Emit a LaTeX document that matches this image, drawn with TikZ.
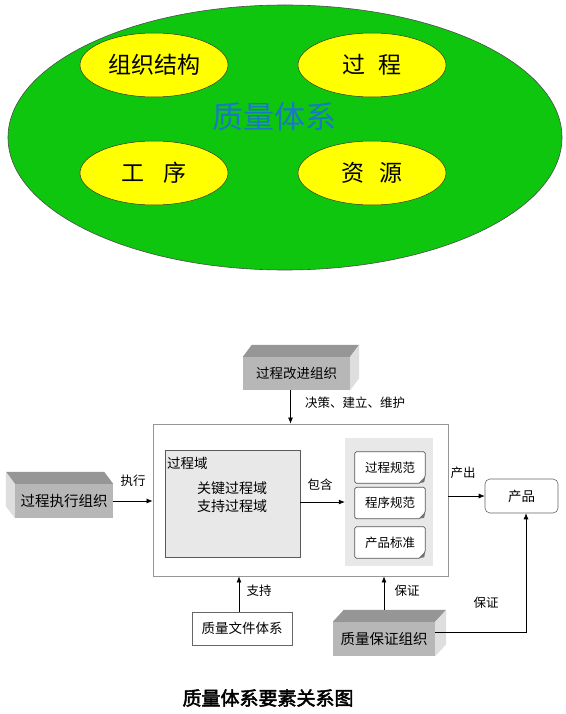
\documentclass[tikz,border=0pt]{standalone}
\usepackage{fontspec}
\newfontfamily\cjk{Noto Sans CJK SC}
\newfontfamily\cjkbold[FakeBold=2.5]{Noto Sans CJK SC}
\usetikzlibrary{arrows.meta,shapes.geometric,calc}
\definecolor{bggreen}{RGB}{15,198,15}
\definecolor{ylw}{RGB}{255,255,0}
\definecolor{qblue}{RGB}{25,120,200}
\definecolor{frontgray}{RGB}{183,183,183}
\definecolor{topgray}{RGB}{150,150,150}
\definecolor{sidegray}{RGB}{222,222,222}
\definecolor{linegray}{RGB}{150,150,150}
\definecolor{domgray}{RGB}{232,232,232}
\begin{document}
\begin{tikzpicture}[x=1pt,y=-1pt,
  font=\cjk,
  arr/.style={draw=black, line width=0.7pt, -{Latex[length=6pt,width=5pt]}},
  inner/.style={ellipse, fill=ylw, draw=black!80, line width=0.5pt, minimum width=148, minimum height=64, inner sep=0pt, font=\cjk\fontsize{23}{26}\selectfont},
  front/.style={fill=frontgray, draw=none, inner sep=0pt, font=\cjk\fontsize{13.5}{16}\selectfont},
  topface/.style={fill=topgray},
  sideface/.style={fill=sidegray},
  docbox/.style={draw=none, minimum width=70, minimum height=31, inner sep=0pt, font=\cjk\fontsize{12.5}{15}\selectfont},
  lbl/.style={font=\cjk\fontsize{12.5}{15}\selectfont, inner sep=0pt},
  plainbox/.style={draw=black!60, fill=white, line width=0.6pt, inner sep=0pt, font=\cjk\fontsize{13.5}{16}\selectfont}
]
\useasboundingbox (0,0) rectangle (565,714);
\fill[white] (0,0) rectangle (565,714);

% ---------- upper diagram ----------
\node[ellipse, fill=bggreen, draw=black!70, line width=0.6pt, minimum width=554, minimum height=265, inner sep=0pt] (qs) at (285,137.5) {};
\node[inner] (zz) at (154,65) {组织结构};
\node[inner] (gc) at (372,65) {过\hspace{0.55em}程};
\node[inner] (gx) at (154,173) {工\hspace{0.8em}序};
\node[inner] (zy) at (372,173) {资\hspace{0.65em}源};
\node[text=qblue, font=\cjk\fontsize{31}{34}\selectfont, inner sep=0pt] (qt) at (274,117) {质量体系};

% ---------- lower diagram ----------
% outer box
\node[draw=linegray, fill=white, line width=0.8pt, minimum width=295, minimum height=152, inner sep=0pt] (outer) at (300.5,500) {};

% process domain
\node[draw=black!65, fill=domgray, line width=0.8pt, minimum width=135, minimum height=107, inner sep=0pt] (dom) at (232.5,503.5) {};
\node[lbl, anchor=west, font=\cjk\fontsize{13.5}{16}\selectfont] (domt) at (167,463) {过程域};
\node[lbl, align=center, font=\cjk\fontsize{14}{18}\selectfont] (domc) at (232,497) {关键过程域\\支持过程域};

% documents container
\node[fill=black!9, minimum width=88, minimum height=128, inner sep=0pt] (cont) at (389,502) {};
\foreach \n/\y/\t in {d1/467.5/过程规范, d2/503/程序规范, d3/542.5/产品标准}{
  \node[docbox] (\n) at (390,\y) {};
  \filldraw[fill=white, draw=black!65, line width=0.7pt, rounded corners=1.5pt]
    (\n.north west) -- (\n.north east) -- ($(\n.south east)+(0,-6)$) [sharp corners] -- ($(\n.south east)+(-6,0)$) [rounded corners=1.5pt] -- (\n.south west) -- cycle;
  \fill[black!55] ($(\n.south east)+(0,-6)$) -- ($(\n.south east)+(-6,0)$) -- ($(\n.south east)+(-1,-1)$) -- cycle;
  \node[docbox] at (\n) {\t};
}

% product
\node[plainbox, rounded corners=5pt, minimum width=73, minimum height=34] (prod) at (521.5,496) {产品};

% 3D box: process improvement org (top)
\node[front, minimum width=107, minimum height=33] (pio) at (296.5,373.5) {过程改进组织};
\fill[topface] (pio.north west) -- ($(pio.north west)+(9,-12)$) -- ($(pio.north east)+(9,-12)$) -- (pio.north east) -- cycle;
\fill[sideface] (pio.north east) -- ($(pio.north east)+(9,-12)$) -- ($(pio.south east)+(9,-12)$) -- (pio.south east) -- cycle;

% 3D box: process execution org (left, viewed from left)
\node[front, minimum width=98, minimum height=34, font=\cjk\fontsize{14.5}{17}\selectfont] (peo) at (64,501) {过程执行组织};
\fill[topface] (peo.north west) -- ($(peo.north west)+(-9,-12)$) -- ($(peo.north east)+(-9,-12)$) -- (peo.north east) -- cycle;
\fill[sideface] (peo.north west) -- ($(peo.north west)+(-9,-12)$) -- ($(peo.south west)+(-9,-12)$) -- (peo.south west) -- cycle;

% 3D box: quality assurance org (bottom)
\node[front, minimum width=102, minimum height=34, font=\cjk\fontsize{14.5}{17}\selectfont] (qa) at (384,639) {质量保证组织};
\fill[topface] (qa.north west) -- ($(qa.north west)+(11,-12)$) -- ($(qa.north east)+(11,-12)$) -- (qa.north east) -- cycle;
\fill[sideface] (qa.north east) -- ($(qa.north east)+(11,-12)$) -- ($(qa.south east)+(11,-12)$) -- (qa.south east) -- cycle;

% quality document system
\node[plainbox, minimum width=100, minimum height=33] (qd) at (242,628.5) {质量文件体系};

% connectors
\draw[arr] ([xshift=-6pt]pio.south) -- ([xshift=-6pt]pio.south |- outer.north);
\node[lbl] (l1) at (355,403) {决策、建立、维护};

\draw[arr] (peo.east) -- (peo.east -| outer.west);
\node[lbl] (l2) at (133,481) {执行};

\draw[arr] (dom.east |- cont.west) -- (cont.west);
\node[lbl] (l3) at (320,485) {包含};

\draw[arr] (outer.east |- prod.west) -- (prod.west);
\node[lbl] (l4) at (463,473) {产出};

\draw[arr] ([xshift=-3pt]qd.north) -- ([xshift=-3pt]qd.north |- outer.south);
\node[lbl] (l5) at (259,591) {支持};

\coordinate (qatop) at ($(qa.north)+(0,-12)$);
\draw[arr] (qatop) -- (qatop |- outer.south);
\node[lbl] (l6) at (407,591) {保证};

\draw[arr] ([yshift=7pt]qa.east) -| ([xshift=4.5pt]prod.south);
\node[lbl] (l7) at (486,603) {保证};

% caption
\node[font=\cjkbold\fontsize{19}{22}\selectfont, inner sep=0pt] (cap) at (268,698) {质量体系要素关系图};
\end{tikzpicture}
\end{document}
